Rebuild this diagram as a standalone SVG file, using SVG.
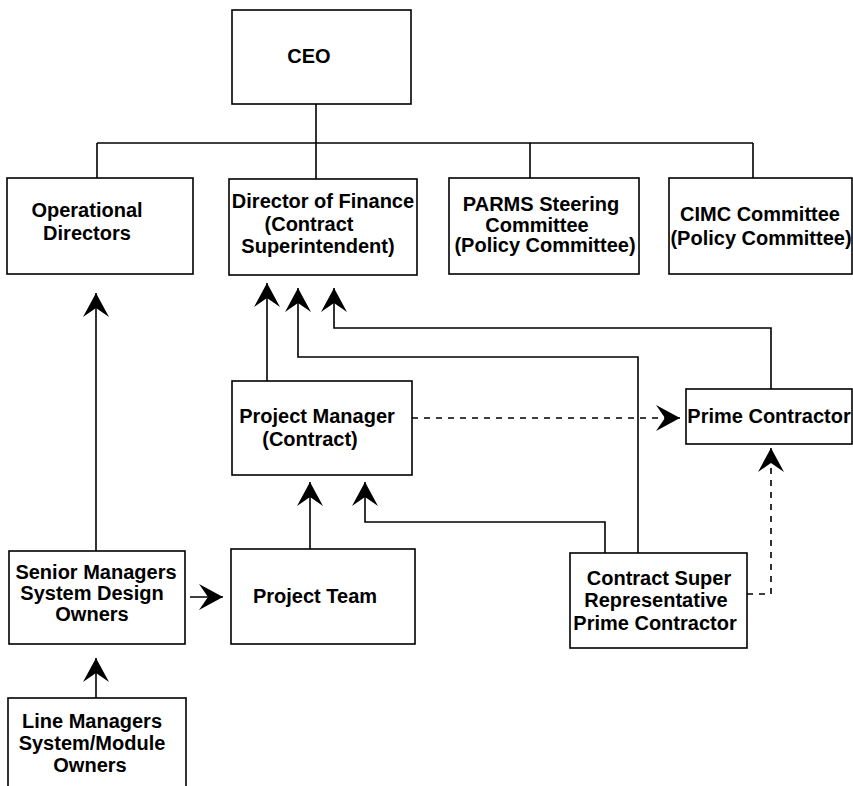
<svg xmlns="http://www.w3.org/2000/svg" width="853" height="786" viewBox="0 0 853 786">
<style>
.box{fill:#fff;stroke:#000;stroke-width:1.6}
.t{font-family:"Liberation Sans",Arial,sans-serif;font-size:20px;font-weight:bold;fill:#000;text-anchor:middle}
.c{fill:none;stroke:#000;stroke-width:1.6}
.d{stroke-dasharray:6 6}
</style>
<defs>
<marker id="ah" viewBox="0 -13 24 26" refX="24" refY="0" markerWidth="24" markerHeight="26" markerUnits="userSpaceOnUse" orient="auto">
<path d="M0,-13 L24,0 L0,13 L9,0 Z" fill="#000"/>
</marker>
</defs>
<rect width="853" height="786" fill="#fff"/>
<g id="connectors">
<path class="c" d="M316,104 V143"/>
<path class="c" d="M97,143 H753"/>
<path class="c" d="M97,143 V178 M316,143 V179 M530,143 V178 M753,143 V178"/>
<path class="c" d="M96,551 V293" marker-end="url(#ah)"/>
<path class="c" d="M267,381 V283" marker-end="url(#ah)"/>
<path class="c" d="M638,553 V357 H298 V288" marker-end="url(#ah)"/>
<path class="c" d="M771,389 V328 H334 V288" marker-end="url(#ah)"/>
<path class="c" d="M310,549 V482" marker-end="url(#ah)"/>
<path class="c" d="M605,553 V522 H365 V482" marker-end="url(#ah)"/>
<path class="c d" d="M412,418 H680" marker-end="url(#ah)"/>
<path class="c d" d="M747,594 H771 V448" marker-end="url(#ah)"/>
<path class="c" d="M190,597 H223" marker-end="url(#ah)"/>
<path class="c" d="M96,698 V658" marker-end="url(#ah)"/>
</g>
<g id="ceo"><rect class="box" x="232" y="10" width="179" height="94"/><text class="t" x="309" y="63">CEO</text></g>
<g id="operational-directors"><rect class="box" x="7" y="178" width="186" height="96"/><text class="t" x="87" y="217">Operational</text><text class="t" x="87" y="240">Directors</text></g>
<g id="director-of-finance"><rect class="box" x="229" y="179" width="188" height="96"/><text class="t" x="323" y="208">Director of Finance</text><text class="t" x="309" y="231">(Contract</text><text class="t" x="318" y="253">Superintendent)</text></g>
<g id="parms"><rect class="box" x="449" y="178" width="190" height="96"/><text class="t" x="541" y="211">PARMS Steering</text><text class="t" x="537" y="232">Committee</text><text class="t" x="545" y="252">(Policy Committee)</text></g>
<g id="cimc"><rect class="box" x="669" y="178" width="183" height="96"/><text class="t" x="760" y="221">CIMC Committee</text><text class="t" x="761" y="245">(Policy Committee)</text></g>
<g id="project-manager"><rect class="box" x="232" y="381" width="180" height="94"/><text class="t" x="317" y="423">Project Manager</text><text class="t" x="310" y="446">(Contract)</text></g>
<g id="prime-contractor"><rect class="box" x="686" y="389" width="166" height="55"/><text class="t" x="769" y="423">Prime Contractor</text></g>
<g id="senior-managers"><rect class="box" x="9" y="551" width="176" height="93"/><text class="t" x="96" y="579">Senior Managers</text><text class="t" x="92" y="600">System Design</text><text class="t" x="92" y="621">Owners</text></g>
<g id="project-team"><rect class="box" x="231" y="549" width="184" height="95"/><text class="t" x="315" y="603">Project Team</text></g>
<g id="contract-super"><rect class="box" x="570" y="553" width="177" height="95"/><text class="t" x="659" y="585">Contract Super</text><text class="t" x="656" y="607">Representative</text><text class="t" x="655" y="630">Prime Contractor</text></g>
<g id="line-managers"><rect class="box" x="8" y="698" width="178" height="110"/><text class="t" x="92" y="728">Line Managers</text><text class="t" x="92" y="750">System/Module</text><text class="t" x="90" y="772">Owners</text></g>
</svg>
